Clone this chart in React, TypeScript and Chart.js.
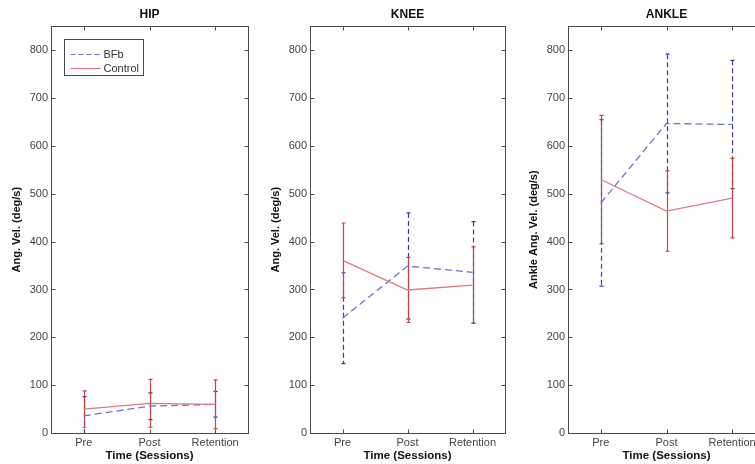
import React, { useEffect, useRef } from 'react';
import { Chart, registerables } from 'chart.js';

Chart.register(...registerables);

// ---- data ----
const sessions = ['Pre', 'Post', 'Retention'];
const yTicks = [0, 100, 200, 300, 400, 500, 600, 700, 800];

const hipBFB = [36, 56, 60];
const hipBFBErr = [40, 28, 27];
const hipControl = [50, 62, 60];
const hipControlErr = [38, 50, 51];

const kneeBFB = [240, 349, 336];
const kneeBFBErr = [95, 111, 106];
const kneeControl = [361, 299, 309];
const kneeControlErr = [78, 68, 80];

const ankleBFB = [481, 647, 645];
const ankleBFBErr = [174, 145, 134];
const ankleControl = [530, 464, 491];
const ankleControlErr = [134, 84, 83];

const seriesNames = ['BFb', 'Control'];

const FONT = "'Liberation Sans', Arial, sans-serif";
const BLUE_LINE = '#7272c8';
const BLUE_BAR = '#3a3aa8';
const RED_LINE = '#dc7a83';
const RED_BAR = '#c9404f';

const errPlugin = {
  id: 'errbars',
  beforeDatasetsDraw(chart: any, _args: any, opts: any) {
    const { ctx, chartArea: a, scales } = chart;
    const x = scales.x;
    const y = scales.y;
    ctx.save();
    ctx.beginPath();
    ctx.rect(a.left, a.top, a.right - a.left, a.bottom - a.top);
    ctx.clip();
    for (const s of opts.sets || []) {
      ctx.strokeStyle = s.color;
      ctx.lineWidth = 1.2;
      for (let i = 0; i < s.mean.length; i++) {
        const px = Math.round(x.getPixelForValue(i)) + 0.5;
        const top = y.getPixelForValue(s.mean[i] + s.err[i]);
        const bot = y.getPixelForValue(s.mean[i] - s.err[i]);
        ctx.setLineDash(s.dash);
        ctx.beginPath();
        ctx.moveTo(px, top);
        ctx.lineTo(px, bot);
        ctx.stroke();
        ctx.setLineDash([]);
        ctx.beginPath();
        ctx.moveTo(px - 2, top);
        ctx.lineTo(px + 2, top);
        ctx.moveTo(px - 2, bot);
        ctx.lineTo(px + 2, bot);
        ctx.stroke();
      }
    }
    ctx.restore();
  },
};

const framePlugin = {
  id: 'frame',
  afterDatasetsDraw(chart: any, _args: any, opts: any) {
    const { ctx, chartArea: a, scales } = chart;
    const x = scales.x;
    const y = scales.y;
    ctx.save();
    ctx.strokeStyle = '#4a4a4a';
    ctx.lineWidth = 1;
    const L = Math.round(a.left) + 0.5;
    const T = Math.round(a.top) + 0.5;
    const R = Math.round(a.right) + 0.5;
    const B = Math.round(a.bottom) + 0.5;
    ctx.strokeRect(L, T, R - L, B - T);
    ctx.beginPath();
    for (const v of yTicks) {
      const py = Math.round(y.getPixelForValue(v)) + 0.5;
      ctx.moveTo(L, py);
      ctx.lineTo(L + 4, py);
      ctx.moveTo(R, py);
      ctx.lineTo(R - 4, py);
    }
    for (let i = 0; i < sessions.length; i++) {
      const px = Math.round(x.getPixelForValue(i)) + 0.5;
      ctx.moveTo(px, T);
      ctx.lineTo(px, T + 4);
      ctx.moveTo(px, B);
      ctx.lineTo(px, B - 4);
    }
    ctx.stroke();

    if (opts && opts.legend) {
      const lx = Math.round(a.left) + 13.5;
      const ly = Math.round(a.top) + 13.5;
      ctx.fillStyle = '#ffffff';
      ctx.fillRect(lx, ly, 79, 36);
      ctx.strokeStyle = '#4a4a4a';
      ctx.strokeRect(lx, ly, 79, 36);
      ctx.lineWidth = 1.2;
      ctx.strokeStyle = BLUE_LINE;
      ctx.setLineDash([5, 3]);
      ctx.beginPath();
      ctx.moveTo(lx + 6, ly + 15);
      ctx.lineTo(lx + 36, ly + 15);
      ctx.stroke();
      ctx.setLineDash([]);
      ctx.strokeStyle = RED_LINE;
      ctx.beginPath();
      ctx.moveTo(lx + 6, ly + 29);
      ctx.lineTo(lx + 36, ly + 29);
      ctx.stroke();
      ctx.fillStyle = '#333333';
      ctx.font = `11px ${FONT}`;
      ctx.textBaseline = 'middle';
      ctx.textAlign = 'left';
      ctx.fillText(seriesNames[0], lx + 39, ly + 15);
      ctx.fillText(seriesNames[1], lx + 39, ly + 29);
    }
    ctx.restore();
  },
};

type PanelProps = {
  title: string;
  yLabel: string;
  bfb: number[];
  bfbErr: number[];
  ctrl: number[];
  ctrlErr: number[];
  left: number;
  width: number;
  legend: boolean;
};

function Panel(p: PanelProps) {
  const ref = useRef<HTMLCanvasElement | null>(null);
  useEffect(() => {
    if (!ref.current) return;
    const chart = new Chart(ref.current, {
      type: 'line',
      data: {
        labels: sessions,
        datasets: [
          {
            label: seriesNames[1],
            data: p.ctrl,
            borderColor: RED_LINE,
            borderWidth: 1.3,
            pointRadius: 0,
            fill: false,
            tension: 0,
            order: 0,
          },
          {
            label: seriesNames[0],
            data: p.bfb,
            borderColor: BLUE_LINE,
            borderWidth: 1.3,
            borderDash: [7, 4],
            pointRadius: 0,
            fill: false,
            tension: 0,
            order: 1,
          },
        ],
      },
      options: {
        animation: false,
        responsive: false,
        maintainAspectRatio: false,
        devicePixelRatio: 1,
        layout: { padding: { left: 0, right: 8, top: 0, bottom: 0 } },
        plugins: {
          legend: { display: false },
          tooltip: { enabled: false },
          title: {
            display: true,
            text: p.title,
            fullSize: false,
            color: '#111',
            font: { family: FONT, size: 12, weight: 'bold' },
            padding: { top: 7, bottom: 5 },
          },
          errbars: {
            sets: [
              { mean: p.bfb, err: p.bfbErr, color: BLUE_BAR, dash: [5, 3] },
              { mean: p.ctrl, err: p.ctrlErr, color: RED_BAR, dash: [] },
            ],
          },
          frame: { legend: p.legend },
        } as any,
        scales: {
          x: {
            type: 'category',
            offset: true,
            grid: { display: false, drawTicks: false },
            border: { display: false },
            ticks: { color: '#444', font: { family: FONT, size: 11 }, padding: 3, maxRotation: 0 },
            title: {
              display: true,
              text: 'Time (Sessions)',
              color: '#111',
              font: { family: FONT, size: 11.5, weight: 'bold' },
              padding: { top: 0, bottom: 1 },
            },
            afterFit: (s: any) => {
              s.height = 31;
            },
          },
          y: {
            min: 0,
            max: 850,
            grid: { display: false, drawTicks: false },
            border: { display: false },
            ticks: {
              stepSize: 100,
              includeBounds: false,
              color: '#444',
              font: { family: FONT, size: 11 },
              padding: 3,
            },
            title: {
              display: true,
              text: p.yLabel,
              color: '#111',
              font: { family: FONT, size: 11, weight: 'bold' },
              padding: { top: 10, bottom: 0 },
            },
            afterFit: (s: any) => {
              s.width = 51;
            },
          },
        },
      } as any,
      plugins: [errPlugin, framePlugin],
    });
    return () => chart.destroy();
  }, []);
  return (
    <div style={{ position: 'absolute', left: p.left, top: 0, width: p.width, height: 464 }}>
      <canvas ref={ref} width={p.width} height={464} style={{ width: p.width, height: 464, display: 'block' }} />
    </div>
  );
}

export default function App() {
  return (
    <div
      style={{
        position: 'fixed',
        left: 0,
        top: 0,
        width: 755,
        height: 464,
        overflow: 'hidden',
        background: '#fff',
      }}
    >
      <Panel title="HIP" yLabel="Ang. Vel. (deg/s)" bfb={hipBFB} bfbErr={hipBFBErr} ctrl={hipControl} ctrlErr={hipControlErr} left={0} width={256} legend={true} />
      <Panel title="KNEE" yLabel="Ang. Vel. (deg/s)" bfb={kneeBFB} bfbErr={kneeBFBErr} ctrl={kneeControl} ctrlErr={kneeControlErr} left={259} width={254} legend={false} />
      <Panel title="ANKLE" yLabel="Ankle Ang. Vel. (deg/s)" bfb={ankleBFB} bfbErr={ankleBFBErr} ctrl={ankleControl} ctrlErr={ankleControlErr} left={517} width={256} legend={false} />
    </div>
  );
}
